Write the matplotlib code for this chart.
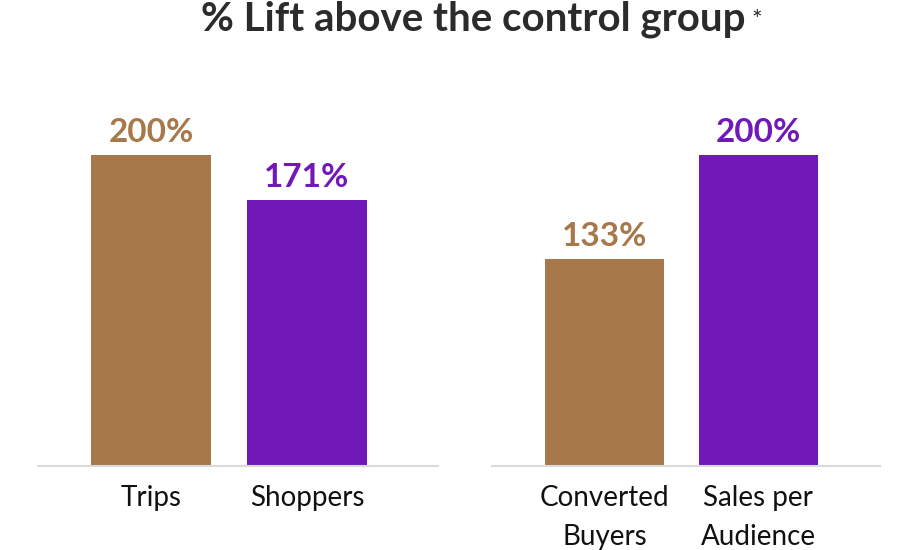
import matplotlib
matplotlib.use("Agg")
import matplotlib.pyplot as plt

plt.rcParams["font.family"] = ["Lato", "DejaVu Sans"]

# data
left_cats = ["Trips", "Shoppers"]
left_vals = [200, 171]
right_cats = ["Converted\nBuyers", "Sales per\nAudience"]
right_vals = [133, 200]

BROWN = "#A6784A"
PURPLE = "#7119B8"
bar_colors = [BROWN, PURPLE]

fig = plt.figure(figsize=(9.2, 5.5), dpi=100)

bottom = (550 - 466) / 550
top = (550 - 60) / 550
ymax = 200 * 406 / 311

panels = [
    (38, 438, left_cats, left_vals, (-0.724, 1.84)),
    (492, 880, right_cats, right_vals, (-0.73, 1.79)),
]

for x0, x1, cats, vals, xlim in panels:
    ax = fig.add_axes([x0 / 920, bottom, (x1 - x0) / 920, top - bottom])
    xs = list(range(len(cats)))
    ax.bar(xs, vals, width=0.77, color=bar_colors, zorder=2)
    for x, v, c in zip(xs, vals, bar_colors):
        ax.annotate(f"{v}%", (x, v), xytext=(0, 6), textcoords="offset points",
                    ha="center", va="bottom", fontsize=24, fontweight="bold", color=c)
    ax.set_xlim(*xlim)
    ax.set_ylim(0, ymax)
    ax.set_xticks(xs)
    ax.set_xticklabels(cats, fontsize=20, color="#111111", linespacing=1.6)
    ax.tick_params(axis="x", length=0, pad=14)
    ax.set_yticks([])
    for s in ["top", "right", "left"]:
        ax.spines[s].set_visible(False)
    ax.spines["bottom"].set_color("#DADADA")
    ax.spines["bottom"].set_linewidth(1.5)

fig.text(0.514, 0.965, "% Lift above the control group", ha="center", va="center",
         fontsize=29, fontweight="bold", color="#2B2B2B")
fig.text(0.823, 0.962, "*", ha="center", va="center", fontsize=18, color="#2B2B2B")

fig.savefig("out.png", dpi=100, facecolor="white")
